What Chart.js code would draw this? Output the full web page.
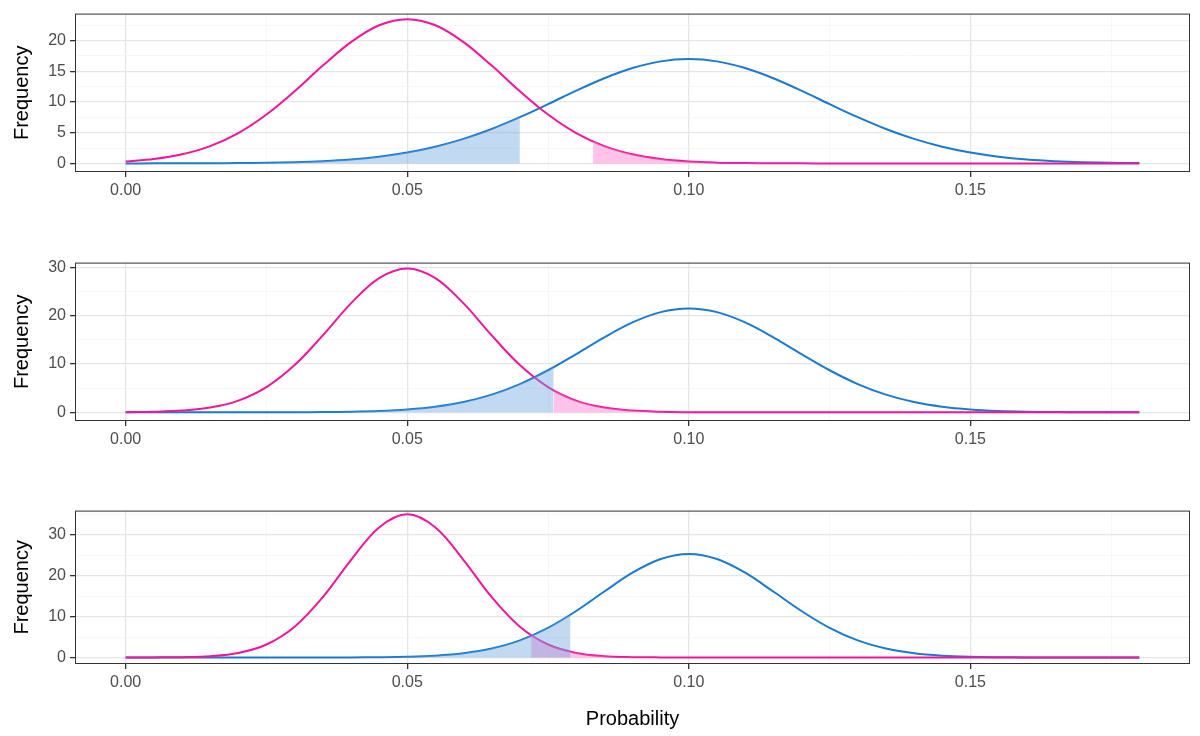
<!DOCTYPE html>
<html><head><meta charset="utf-8">
<script src="https://cdn.jsdelivr.net/npm/chart.js@4/dist/chart.umd.min.js"></script>
<style>body{margin:0;background:#fff;width:1200px;height:736px;position:relative;overflow:hidden}
.c{position:absolute;left:0;width:1200px}</style></head><body>
<div class="c" style="top:0;height:200px"><canvas id="c1"></canvas></div>
<div class="c" style="top:249px;height:200px"><canvas id="c2"></canvas></div>
<div class="c" style="top:497px;height:239px"><canvas id="c3"></canvas></div>
<script>
const probability = Array.from({length:37},(_, i)=>+(i*0.005).toFixed(3));
const pink1 = [0.31,0.71,1.48,2.82,4.95,7.97,11.76,15.93,19.76,22.51,23.5,22.51,19.76,15.93,11.76,7.97,4.95,2.82,1.48,0.71,0.31,0.125,0.046,0.016,0.005,0,0,0,0,0,0,0,0,0,0,0,0];
const blue1 = [0.002,0.005,0.011,0.024,0.052,0.104,0.20,0.37,0.65,1.10,1.77,2.72,3.99,5.61,7.53,9.65,11.84,13.87,15.53,16.62,17,16.62,15.53,13.87,11.84,9.65,7.53,5.61,3.99,2.72,1.77,1.10,0.65,0.37,0.20,0.104,0.052];
const pink2 = [0.028,0.106,0.35,0.98,2.43,5.23,9.78,15.93,22.56,27.80,29.8,27.80,22.56,15.93,9.78,5.23,2.43,0.98,0.35,0.106,0.028,0.007,0.0015,0,0,0,0,0,0,0,0,0,0,0,0,0,0];
const blue2 = [0,0,0,0.001,0.002,0.006,0.018,0.048,0.118,0.27,0.58,1.15,2.13,3.66,5.85,8.71,12.06,15.53,18.61,20.74,21.5,20.74,18.61,15.53,12.06,8.71,5.85,3.66,2.13,1.15,0.58,0.27,0.118,0.048,0.018,0.006,0.002];
const pink3 = [0.002,0.014,0.074,0.31,1.10,3.16,7.51,14.73,23.82,31.79,35,31.79,23.82,14.73,7.51,3.16,1.10,0.31,0.074,0.014,0.002,0,0,0,0,0,0,0,0,0,0,0,0,0,0,0,0];
const blue3 = [0,0,0,0,0,0,0.001,0.005,0.019,0.059,0.169,0.44,1.03,2.18,4.17,7.24,11.36,16.12,20.71,24.06,25.3,24.06,20.71,16.12,11.36,7.24,4.17,2.18,1.03,0.44,0.169,0.059,0.019,0.005,0.001,0,0];
// shaded regions: [blueUpTo, pinkFrom]
const blueCut = [0.07, 0.076, 0.079];
const pinkCut = [0.083, 0.076, 0.072];
const xTicks = [0,0.025,0.05,0.075,0.1,0.125,0.15,0.175];
const yTicks1 = [0,2.5,5,7.5,10,12.5,15,17.5,20,22.5];
const yTicks2 = [0,5,10,15,20,25,30];
const yTicks3 = [0,5,10,15,20,25,30,35];
const yMajor = [5,10,10];

const PINK='#f0169b', BLUE='#1a7ad0';
function interp(ys,x){const i=Math.min(35,Math.floor(x/0.005+1e-9));const t=(x-probability[i])/0.005;return ys[i]+(ys[i+1]-ys[i])*t;}
function pts(ys){return probability.map((x,i)=>({x,y:ys[i]}));}
function below(ys,c){const p=pts(ys).filter(d=>d.x<=c+1e-9);if(p[p.length-1].x<c-1e-9)p.push({x:c,y:interp(ys,c)});return p;}
function above(ys,c){const p=pts(ys).filter(d=>d.x>=c-1e-9);if(p[0].x>c+1e-9)p.unshift({x:c,y:interp(ys,c)});return p;}
const border={id:'bd',afterDraw(ch){const a=ch.chartArea,g=ch.ctx;g.save();g.strokeStyle='#333';g.lineWidth=1;g.strokeRect(a.left+0.5,a.top+0.5,a.right-a.left-1,a.bottom-a.top-1);g.restore();}};
function make(id,pink,blue,k,yt,ymin,ymax,last){
  const major=yMajor[k];
  new Chart(document.getElementById(id),{type:'line',
    data:{datasets:[
      {data:below(blue,blueCut[k]),borderWidth:0,pointRadius:0,fill:'origin',backgroundColor:'rgba(110,165,225,0.42)',tension:0.3},
      {data:above(pink,pinkCut[k]),borderWidth:0,pointRadius:0,fill:'origin',backgroundColor:'rgba(255,110,200,0.42)',tension:0.3},
      {data:pts(pink),borderColor:PINK,borderWidth:2,pointRadius:0,fill:false,tension:0.35},
      {data:pts(blue),borderColor:BLUE,borderWidth:2,pointRadius:0,fill:false,tension:0.35}]},
    options:{responsive:true,maintainAspectRatio:false,animation:false,
      layout:{padding:{top:3,right:10,left:10,bottom:last?5:0}},
      plugins:{legend:{display:false},tooltip:{enabled:false}},
      scales:{
        x:{type:'linear',min:-0.009,max:0.189,
          afterBuildTicks:s=>{s.ticks=xTicks.map(v=>({value:v}));},
          afterFit:s=>{s.height=last?67:28;},
          grid:{color:c=>c.tick&&Math.round(c.tick.value*1000)%50===0?'#e6e6e6':'#f3f3f3',lineWidth:c=>c.tick&&Math.round(c.tick.value*1000)%50===0?1.3:0.7,
            tickColor:c=>c.tick&&Math.round(c.tick.value*1000)%50===0?'#333':'rgba(0,0,0,0)',tickLength:5},
          border:{display:false},
          ticks:{color:'#4d4d4d',font:{family:'Liberation Sans',size:16},padding:4,maxRotation:0,autoSkip:false,
            callback:v=>Math.round(v*1000)%50===0?v.toFixed(2):''},
          title:{display:last,text:'Probability',color:'#000',font:{family:'Liberation Sans',size:20},padding:{top:0,bottom:0}}},
        y:{min:ymin,max:ymax,
          afterBuildTicks:s=>{s.ticks=yt.map(v=>({value:v}));},
          afterFit:s=>{s.width=65;},
          grid:{color:c=>c.tick&&c.tick.value%major===0?'#e6e6e6':'#f3f3f3',lineWidth:c=>c.tick&&c.tick.value%major===0?1.3:0.7,
            tickColor:c=>c.tick&&c.tick.value%major===0?'#333':'rgba(0,0,0,0)',tickLength:5},
          border:{display:false},
          ticks:{color:'#4d4d4d',font:{family:'Liberation Sans',size:16},padding:4,autoSkip:false,
            callback:v=>v%major===0?String(v):''},
          title:{display:true,text:'Frequency',color:'#000',font:{family:'Liberation Sans',size:20},padding:{top:0,bottom:0}}}}},
    plugins:[border]});
}
make('c1',pink1,blue1,0,yTicks1,-1.4,24.4,false);
make('c2',pink2,blue2,1,yTicks2,-1.8,31.0,false);
make('c3',pink3,blue3,2,yTicks3,-1.6,35.9,true);
</script></body></html>
